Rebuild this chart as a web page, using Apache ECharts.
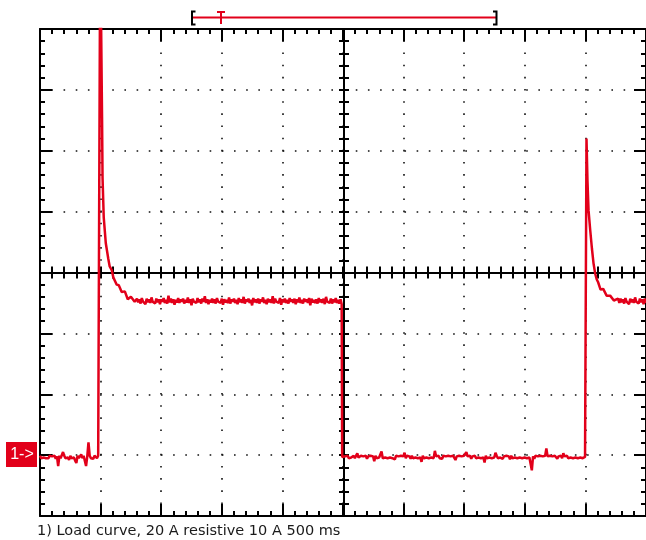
<!DOCTYPE html>
<html>
<head>
<meta charset="utf-8">
<script src="https://cdn.jsdelivr.net/npm/echarts@6/dist/echarts.min.js"></script>
<style>
html,body{margin:0;padding:0;background:#fff;}
#chart{width:646px;height:540px;}
</style>
</head>
<body>
<div id="chart"></div>
<script>
// ---- Data (time in ms, current in A; 500 ms/div, 10 A/div) ----
const caption = "1) Load curve, 20 A resistive 10 A 500 ms";
const channelLabel = "1->";
const sampleStepMs = 10;

const baseline1Start = 0;
const baseline1 = [
-0.1,-0.5,-0.2,-0.4,-0.1,-0.5,-0.2,-0.5,-0.1,-0.4,
-0.2,-0.5,-0.1,-0.6,-0.2,-1.8,-0.1,-0.5,-0.2,0.5,
-0.1,-0.5,-0.2,-0.4,-0.8,-0.1,-0.5,-0.2,-0.4,-0.9,
-1.3,-0.1,-0.5,-0.2,0.1,-0.5,-0.1,-0.4,-1.8,-0.2,
2.1,-0.1,-0.5,-0.2,-0.6,-0.1,-0.4,-0.5,-0.1,-0.4
];

const rise1 = [
[495,-0.3],[497,85],[507,85],[512,55.4],[516,45.6],[526,39.0],[543,34.8],
[563,32.3],[575,31.0],[592,30.4],[605,29.2],[620,29.0],[633,28.0],[650,27.9],
[674,26.8],[700,26.9],[724,25.6],[750,26.0],[781,25.2]
];

const high1Start = 790;
const high1 = [
25.0,25.7,25.1,25.6,24.9,25.8,25.2,25.5,24.8,25.7,
25.1,25.6,25.0,25.9,25.2,25.5,24.9,25.7,25.1,25.6,
24.8,25.6,25.2,25.8,25.0,25.5,24.9,26.2,25.1,25.7,
25.0,25.6,24.7,25.5,25.1,25.8,25.0,25.6,25.2,25.7,
24.9,25.5,25.1,25.9,25.0,25.6,24.6,25.7,25.2,25.5,
25.0,25.8,25.1,25.6,24.9,25.7,25.2,26.1,25.0,25.6,
24.8,25.5,25.1,25.7,25.0,25.6,24.9,25.8,25.2,25.5,
25.0,25.7,24.7,25.6,25.1,25.5,25.0,25.9,24.9,25.6,
25.2,25.7,25.0,25.5,24.8,25.8,25.1,25.6,25.0,26.0,
24.9,25.6,25.2,25.7,25.0,25.5,24.6,25.8,25.1,25.6,
25.0,25.7,24.9,25.6,25.2,25.9,25.0,25.5,24.8,25.7,
25.1,25.6,25.0,26.1,24.9,25.7,25.2,25.5,25.0,25.8,
24.7,25.6,25.1,25.7,25.0,25.5,24.9,25.8,25.2,25.6,
25.0,25.7,24.8,25.6,25.1,25.9,25.0,25.5,24.9,25.7,
25.2,25.6,25.0,25.8,24.6,25.7,25.1,25.5,25.0,25.6,
24.9,25.8,25.1,25.6,25.0,25.7,24.8,26.0,25.2,25.5,
25.0,25.7,24.9,25.6,25.1,25.8,25.0,25.5,24.9,25.6
];

const fall1 = [[2489,24.8],[2493,-0.3]];

const baseline2Start = 2498;
const baseline2 = [
-0.1,-0.5,-0.2,-0.4,-0.1,-0.5,-0.2,-0.4,-0.6,-0.1,
-0.5,-0.2,0.3,-0.4,-0.6,-0.1,-0.4,-0.2,-0.5,-0.1,
-0.6,-0.2,-0.5,-0.1,-0.4,-0.2,-1.0,-0.1,-0.5,-0.2,
-0.4,-0.1,0.6,-0.5,-0.2,-0.4,-0.1,-0.5,-0.2,-0.4,
-0.1,-0.5,-0.2,-0.7,-0.1,-0.4,-0.2,-0.5,-0.1,-0.4,
-0.2,0.4,-0.5,-0.1,-0.4,-0.2,-0.6,-0.1,-0.5,-0.2,
-0.4,-0.1,-0.5,-0.2,-0.4,-1.1,-0.1,-0.5,-0.2,-0.4,
-0.1,-0.5,-0.2,-0.4,-0.1,-0.5,0.7,-0.2,-0.4,-0.1,
-0.5,-0.2,-0.6,-0.1,-0.4,-0.2,-0.5,-0.1,-0.4,-0.2,
-0.5,-0.1,-0.4,-0.8,-0.2,-0.5,-0.1,-0.4,-0.2,-0.5,
-0.1,-0.4,0.5,-0.2,-0.5,-0.1,-0.6,-0.2,-0.4,-0.1,
-0.5,-0.2,-0.4,-0.1,-0.5,-0.2,-0.4,-1.2,-0.1,-0.5,
-0.2,-0.4,-0.1,-0.5,-0.2,-0.4,0.4,-0.1,-0.5,-0.2,
-0.4,-0.1,-0.6,-0.2,-0.5,-0.1,-0.4,-0.2,-0.7,-0.1,
-0.5,-0.2,-0.4,-0.1,-0.5,-0.2,-0.4,-0.1,-0.5,-0.2,
-0.4,-0.1,-0.5,-0.2,-0.4,-0.1,-2.5,-0.2,-0.6,-0.1,
-0.4,-0.2,-0.5,-0.1,-0.4,-0.2,-0.5,-0.1,1.1,-0.2,
-0.5,-0.1,-0.4,-0.2,-0.5,-0.1,-0.4,-0.6,-0.2,-0.4,
-0.1,-0.5,0.3,-0.2,-0.4,-0.1,-0.5,-0.2,-0.4,-0.1,
-0.5,-0.2,-0.4,-0.1,-0.5,-0.2,-0.4,-0.1,-0.5,-0.2
];

const rise2 = [
[4497,-0.3],[4507,-0.2],[4509,52.0],[4517,45.1],[4526,40.2],[4540,36.9],
[4554,33.9],[4567,31.5],[4581,29.8],[4593,28.9],[4605,28.4],[4625,27.2],
[4647,27.3],[4675,26.2],[4704,26.2],[4735,25.4],[4770,25.7]
];

const high2Start = 4780;
const high2 = [
25.0,25.7,25.1,25.6,24.9,25.8,25.2,25.5,24.8,25.7,25.1,25.6,
25.0,25.9,25.2,25.5,24.9,25.7,25.1,25.6,24.8,25.7,25.0
];

// Axis ranges
const xMin = 0, xMax = 5000, xDiv = 500;
const yMin = -10, yMax = 70, yDiv = 10;

// ---- build series data ----
function sampled(start, values) {
  return values.map((v, i) => [start + i * sampleStepMs, v]);
}
const trace = [].concat(
  sampled(baseline1Start, baseline1),
  rise1,
  sampled(high1Start, high1),
  fall1,
  sampled(baseline2Start, baseline2),
  rise2,
  sampled(high2Start, high2)
);

const RED = '#e2001a';
const BLACK = '#000';
const GRID = {left: 40, top: 29, width: 608, height: 487};

function frameX(position, opts) {
  return Object.assign({
    type: 'value', min: xMin, max: xMax, interval: xDiv, position: position,
    axisLine: {show: true, onZero: false, lineStyle: {color: BLACK, width: 2}},
    axisTick: {show: true, inside: true, length: 12, lineStyle: {color: BLACK, width: 2}},
    minorTick: {show: true, splitNumber: 5, length: 5, lineStyle: {color: BLACK, width: 2}},
    axisLabel: {show: false},
    splitLine: {show: false}
  }, opts || {});
}
function frameY(position, opts) {
  return Object.assign({
    type: 'value', min: yMin, max: yMax, interval: yDiv, position: position,
    axisLine: {show: true, onZero: false, lineStyle: {color: BLACK, width: 2}},
    axisTick: {show: true, inside: true, length: 12, lineStyle: {color: BLACK, width: 2}},
    minorTick: {show: true, splitNumber: 5, length: 5, lineStyle: {color: BLACK, width: 2}},
    axisLabel: {show: false},
    splitLine: {show: false}
  }, opts || {});
}

const xCenterOffset = -(GRID.height / 2);
const yCenterOffset = -(GRID.width / 2);

const option = {
  animation: false,
  backgroundColor: '#fff',
  grid: {left: GRID.left, top: GRID.top, width: GRID.width, height: GRID.height, show: false},
  xAxis: [
    frameX('bottom', {splitLine: {show: true, lineStyle: {color: '#111', width: 1.6, type: [1.6, 10.56], dashOffset: 0.8}}}),
    frameX('top'),
    frameX('bottom', {offset: xCenterOffset,
      axisTick: {show: true, inside: true, length: 6, lineStyle: {color: BLACK, width: 2}},
      minorTick: {show: true, splitNumber: 5, length: 6, lineStyle: {color: BLACK, width: 2}}}),
    frameX('bottom', {offset: xCenterOffset,
      axisTick: {show: true, inside: false, length: 6, lineStyle: {color: BLACK, width: 2}},
      minorTick: {show: true, splitNumber: 5, length: 6, lineStyle: {color: BLACK, width: 2}}})
  ],
  yAxis: [
    frameY('left', {splitLine: {show: true, lineStyle: {color: '#111', width: 1.6, type: [1.6, 10.575], dashOffset: 0.8}}}),
    frameY('right'),
    frameY('left', {offset: yCenterOffset,
      axisTick: {show: true, inside: true, length: 5, lineStyle: {color: BLACK, width: 2}},
      minorTick: {show: true, splitNumber: 5, length: 5, lineStyle: {color: BLACK, width: 2}}}),
    frameY('left', {offset: yCenterOffset,
      axisTick: {show: true, inside: false, length: 5, lineStyle: {color: BLACK, width: 2}},
      minorTick: {show: true, splitNumber: 5, length: 5, lineStyle: {color: BLACK, width: 2}}})
  ],
  series: [{
    type: 'line',
    xAxisIndex: 0, yAxisIndex: 0,
    data: trace,
    showSymbol: false, symbol: 'none',
    clip: true,
    lineStyle: {color: RED, width: 2.5},
    z: 5
  }],
  graphic: [
    // trigger / window indicator at top
    {type: 'line', shape: {x1: 193, y1: 17.5, x2: 496, y2: 17.5}, style: {stroke: RED, lineWidth: 2}},
    {type: 'polyline', shape: {points: [[195.5, 11.5], [192, 11.5], [192, 24.5], [195.5, 24.5]]}, style: {stroke: BLACK, lineWidth: 2, fill: null}},
    {type: 'polyline', shape: {points: [[493, 11.5], [496.5, 11.5], [496.5, 24.5], [493, 24.5]]}, style: {stroke: BLACK, lineWidth: 2, fill: null}},
    {type: 'line', shape: {x1: 217, y1: 12, x2: 225, y2: 12}, style: {stroke: RED, lineWidth: 2}},
    {type: 'line', shape: {x1: 221, y1: 12, x2: 221, y2: 24}, style: {stroke: RED, lineWidth: 2}},
    // channel marker
    {type: 'rect', shape: {x: 6, y: 442, width: 31, height: 25}, style: {fill: RED}},
    {type: 'text', x: 22, y: 454.5, style: {text: channelLabel, fill: '#fff', font: '16px "Liberation Sans", sans-serif', align: 'center', verticalAlign: 'middle'}},
    // caption
    {type: 'text', x: 37, y: 531, style: {text: caption, fill: '#1a1a1a', font: '14.5px "DejaVu Sans", sans-serif', align: 'left', verticalAlign: 'middle'}}
  ]
};

const chart = echarts.init(document.getElementById('chart'), null, {renderer: 'canvas'});
chart.setOption(option);
</script>
</body>
</html>
